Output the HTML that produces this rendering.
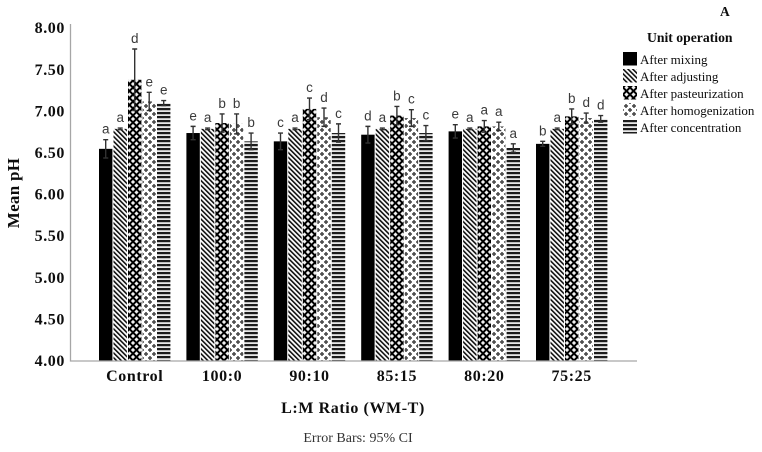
<!DOCTYPE html>
<html>
<head>
<meta charset="utf-8">
<title>Mean pH by L:M Ratio</title>
<style>
html,body{margin:0;padding:0;background:#fff;}
svg{display:block;}
text{font-family:"Liberation Serif",serif;fill:#111;}
.tick{font-weight:bold;font-size:16px;letter-spacing:.6px;}
.letter{font-family:"Liberation Sans",sans-serif;font-size:13.5px;fill:#3a3a3a;text-anchor:middle;}
.legend-text{font-size:13px;}
</style>
</head>
<body>
<svg id="chart" xmlns="http://www.w3.org/2000/svg" width="762" height="452" viewBox="0 0 762 452">
  <defs>
    <filter id="soft" x="-5%" y="-5%" width="110%" height="110%"><feGaussianBlur stdDeviation="0.28"/></filter>
    <filter id="softText" x="-5%" y="-5%" width="110%" height="110%"><feGaussianBlur stdDeviation="0.2"/></filter>
    <pattern id="p0" patternUnits="userSpaceOnUse" width="6" height="6"><rect width="6" height="6" fill="#000"/></pattern>
    <pattern id="p1" patternUnits="userSpaceOnUse" width="3.4" height="3.4" patternTransform="rotate(-45)"><rect width="3.4" height="3.4" fill="#fff"/><rect width="1.6" height="3.4" fill="#111"/></pattern>
    <pattern id="p2" patternUnits="userSpaceOnUse" width="7" height="7"><rect width="7" height="7" fill="#000"/><path d="M0 -2.1L2.1 0L0 2.1L-2.1 0ZM7 -2.1L9.1 0L7 2.1L4.9 0ZM0 4.9L2.1 7L0 9.1L-2.1 7ZM7 4.9L9.1 7L7 9.1L4.9 7ZM3.5 1.4L5.6 3.5L3.5 5.6L1.4 3.5Z" fill="#f0f0f0"/></pattern>
    <pattern id="p3" patternUnits="userSpaceOnUse" width="8" height="8"><rect width="8" height="8" fill="#fff"/><path d="M2 0v4M0 2h4M6 4v4M4 6h4" stroke="#444" stroke-width="1.5" fill="none"/></pattern>
    <pattern id="p4" patternUnits="userSpaceOnUse" width="4" height="4"><rect width="4" height="4" fill="#e8e8e8"/><rect width="4" height="2.2" fill="#1a1a1a"/></pattern>
  </defs>
  <g id="plot" filter="url(#soft)"></g>
  <g id="labels" filter="url(#softText)"></g>
</svg>
<script>
const categories = ["Control", "100:0", "90:10", "85:15", "80:20", "75:25"];
const seriesNames = ["After mixing", "After adjusting", "After pasteurization", "After homogenization", "After concentration"];
const yTickLabels = [4.00, 4.50, 5.00, 5.50, 6.00, 6.50, 7.00, 7.50, 8.00];
const afterMixing = [6.55, 6.74, 6.64, 6.72, 6.76, 6.61];
const afterAdjusting = [6.79, 6.79, 6.79, 6.79, 6.79, 6.79];
const afterPasteurization = [7.38, 6.86, 7.03, 6.95, 6.82, 6.94];
const afterHomogenization = [7.12, 6.85, 6.93, 6.92, 6.82, 6.92];
const afterConcentration = [7.10, 6.64, 6.74, 6.74, 6.56, 6.91];
const errMixing = [0.11, 0.08, 0.10, 0.10, 0.08, 0.03];
const errAdjusting = [0.01, 0.01, 0.01, 0.01, 0.01, 0.01];
const errPasteurization = [0.37, 0.11, 0.13, 0.11, 0.07, 0.09];
const errHomogenization = [0.11, 0.12, 0.11, 0.10, 0.05, 0.06];
const errConcentration = [0.03, 0.10, 0.11, 0.09, 0.05, 0.04];
const lettersMixing = ["a", "e", "c", "d", "e", "b"];
const lettersAdjusting = ["a", "a", "a", "a", "a", "a"];
const lettersPasteurization = ["d", "b", "c", "b", "a", "b"];
const lettersHomogenization = ["e", "b", "d", "c", "a", "d"];
const lettersConcentration = ["e", "b", "c", "c", "a", "d"];

const seriesValues = [afterMixing, afterAdjusting, afterPasteurization, afterHomogenization, afterConcentration];
const seriesErrors = [errMixing, errAdjusting, errPasteurization, errHomogenization, errConcentration];
const seriesLetters = [lettersMixing, lettersAdjusting, lettersPasteurization, lettersHomogenization, lettersConcentration];

const NS = "http://www.w3.org/2000/svg";
const plot = document.getElementById("plot");
const labels = document.getElementById("labels");

function yPos(v) { return 361 - (v - 4) * 83.2; }
function xPos(group, series) { return 99 + group * 87.4 + series * 14.5; }

function make(parent, tag, attrs, content) {
  const el = document.createElementNS(NS, tag);
  for (const k in attrs) el.setAttribute(k, attrs[k]);
  if (content !== undefined) el.textContent = content;
  parent.appendChild(el);
  return el;
}

const barWidth = 13.4;

seriesValues.forEach(function (values, s) {
  values.forEach(function (v, g) {
    const x = xPos(g, s);
    const top = yPos(v);
    const bar = make(plot, "rect", { x: x, y: top, width: barWidth, height: yPos(4) - top, fill: "url(#p" + s + ")" });
    
    

    const e = seriesErrors[s][g];
    const cx = x + barWidth / 2;
    const hi = yPos(v + e);
    const lo = yPos(v - e);
    const err = make(plot, "path", {
      d: "M" + cx + " " + hi + "V" + lo + "M" + (cx - 2.5) + " " + hi + "H" + (cx + 2.5) + "M" + (cx - 2.5) + " " + lo + "H" + (cx + 2.5),
      stroke: "#333", "stroke-width": 1.4, fill: "none"
    });
    
    

    const letter = make(labels, "text", { x: cx, y: hi - 6, class: "letter" }, seriesLetters[s][g]);
    
    
  });
});

const axes = make(plot, "path", { d: "M70.5 24V361H637", stroke: "#a6a6a6", "stroke-width": 1.3, fill: "none" });



yTickLabels.forEach(function (t) {
  const tick = make(labels, "text", { x: 65, y: yPos(t) + 5, "text-anchor": "end", class: "tick" }, t.toFixed(2));
  
  
});

categories.forEach(function (c, g) {
  const label = make(labels, "text", { x: xPos(g, 2) + barWidth / 2, y: 381, "text-anchor": "middle", class: "tick" }, c);
  
  
});

const yTitle = make(labels, "text", { transform: "translate(19,193) rotate(-90)", "text-anchor": "middle", "font-weight": "bold", "font-size": "17", "letter-spacing": ".3" }, "Mean pH");



const xTitle = make(labels, "text", { x: 353, y: 413, "text-anchor": "middle", "font-weight": "bold", "font-size": "16", "letter-spacing": ".6" }, "L:M Ratio (WM-T)");



const footnote = make(labels, "text", { x: 358, y: 442, "text-anchor": "middle", "font-size": "14", style: "fill:#333" }, "Error Bars: 95% CI");



const panel = make(labels, "text", { x: 720, y: 16, "font-weight": "bold", "font-size": "13.5" }, "A");



const legendTitle = make(labels, "text", { x: 647, y: 42, "font-weight": "bold", "font-size": "13.7" }, "Unit operation");



seriesNames.forEach(function (name, s) {
  const swatch = make(plot, "rect", { x: 623, y: 52 + s * 17, width: 14, height: 13.5, fill: "url(#p" + s + ")" });
  
  
  const entry = make(labels, "text", { x: 640, y: 64 + s * 17, class: "legend-text" }, name);
  
  
});
</script>
</body>
</html>
